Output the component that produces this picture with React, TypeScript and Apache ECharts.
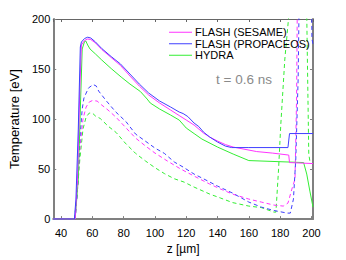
import React, { useEffect, useRef } from "react";
import * as echarts from "echarts";

// z [µm], Temperature [eV]
const sesameSolid: number[][] = [
  [35, 0], [49, 0], [50.5, 40], [52, 130], [53, 174], [55, 178.5], [57, 180], [59, 179.5],
  [62, 176], [66, 169.5], [72, 161.5], [78, 153.5], [84, 143], [90, 133], [96, 124],
  [103, 116], [110, 109], [115.5, 103.5], [120, 99], [125, 94], [131, 86], [135, 82],
  [140, 78], [145, 74.5], [150, 72], [155, 70.5], [165, 67.5], [175, 66], [185.5, 64],
  [186, 56.5], [201, 55.5],
];
const propaceosSolid: number[][] = [
  [35, 0], [48.5, 0], [49.5, 20], [51, 90], [52.3, 172], [53, 177], [55, 180.5], [57, 181.8],
  [59, 181], [62, 177], [66, 170.5], [72, 162.5], [78, 155], [84, 145], [90, 135], [96, 126],
  [103, 118], [110, 112], [115.5, 107], [118, 105.5], [121, 102.5], [125, 96], [128, 92.5],
  [131, 87], [135, 82], [140, 77], [145, 73], [149, 71.5], [160, 71.5], [185, 71.5],
  [186, 85.5], [201, 85.5],
];
const hydraSolid: number[][] = [
  [35, 0], [49, 0], [51, 40], [52.5, 120], [53.5, 170], [55, 177.5], [55.8, 178], [57, 174],
  [58.5, 170], [62, 165], [66, 159], [72, 150.5], [78.4, 142], [84, 135], [90.7, 127.5],
  [95, 120], [97, 116], [103, 110], [110, 104], [115.5, 99], [120, 91], [125, 85.5],
  [130, 80], [140, 72], [150, 65], [160, 58.5], [195, 56.5], [197, 45], [199, 28], [201, 12],
];
const sesameDashed: number[][] = [
  [35, 0], [49, 0], [50.5, 30], [52, 70], [54, 100], [56, 112], [58, 117], [60, 118.5],
  [63, 118], [66, 114], [70, 109], [75, 102], [81, 92], [87.6, 81], [94, 73], [100, 66],
  [108, 58], [116.5, 50], [125, 43], [135, 35], [142, 30], [149.6, 25], [160, 20], [168, 17],
  [176, 14], [182, 13], [185, 16], [187.5, 30], [189.5, 40], [190.5, 120], [191.2, 260],
  [201, 260],
];
const propaceosDashed: number[][] = [
  [35, 0], [49, 0], [50.5, 30], [52, 80], [53.5, 110], [54.6, 121], [57.5, 131], [60.5, 134.5],
  [62.5, 133], [64, 128], [66, 124], [69, 118], [75, 107], [81.5, 97.4], [87.6, 85],
  [93.8, 78], [100, 71], [106, 65.7], [112.4, 57], [118, 52], [125, 45], [131, 40.3],
  [140, 33], [149.6, 26], [160, 17], [168, 12], [176, 8.6], [184.5, 6], [186.5, 6],
  [188.5, 20], [190, 60], [191.5, 140], [192.5, 260], [200, 260], [200.3, 180], [201, 175],
];
const hydraDashed: number[][] = [
  [35, 0], [48.5, 0], [50, 20], [52, 60], [54, 90], [56, 102], [58, 106], [60, 106],
  [62, 103], [65, 100.6], [70, 93], [75.3, 86.4], [81, 76], [87.6, 65.7], [94, 58],
  [100, 51.4], [106, 45.5], [112.4, 40.3], [118.6, 37], [125, 32], [135, 25], [142, 21],
  [149.6, 16.5], [160, 13], [168, 11.5], [176, 7], [177.3, 7], [179, 50], [180.4, 94],
  [183, 160], [186.5, 220], [187, 260], [196.5, 260], [197.5, 150], [198.3, 65], [199, 58],
];

const legendNames = ["FLASH (SESAME)", "FLASH (PROPACEOS)", "HYDRA"];
const annotation = "t = 0.6 ns";

const MAGENTA = "#ff33ff";
const BLUE = "#3f3fff";
const GREEN = "#33ee33";
const FONT = "'Liberation Sans', Arial, sans-serif";

function lineSeries(name: string, data: number[][], color: string, dashed: boolean) {
  return {
    name,
    type: "line",
    data,
    showSymbol: false,
    symbol: "none",
    clip: true,
    color,
    lineStyle: { color, width: 1, type: dashed ? [4, 3] : "solid" },
    z: dashed ? 2 : 3,
  };
}

export default function App() {
  const ref = useRef<HTMLDivElement>(null);
  useEffect(() => {
    if (!ref.current) return;
    const chart = echarts.init(ref.current, undefined, { renderer: "svg" });
    const gray = "#808080";
    chart.setOption({
      animation: false,
      backgroundColor: "#ffffff",
      textStyle: { fontFamily: FONT },
      grid: { left: 45, top: 19, right: 33, bottom: 31, containLabel: false },
      legend: {
        data: legendNames,
        orient: "vertical",
        left: 169,
        top: 26.5,
        padding: 0,
        itemGap: 0,
        itemWidth: 23,
        itemHeight: 1,
        icon: "rect",
        textStyle: { fontSize: 11, lineHeight: 11.5, color: "#000", fontFamily: FONT, padding: [0, 0, 0, -2] },
      },
      graphic: [
        {
          type: "text",
          left: 216,
          top: 72,
          style: { text: annotation, fontSize: 13.5, fill: "#8a8a8a", fontFamily: FONT },
        },
      ],
      xAxis: [
        {
          type: "value",
          min: 35,
          max: 201,
          splitNumber: 8,
          position: "bottom",
          axisLine: { onZero: false, lineStyle: { color: gray, width: 2 } },
          axisTick: { inside: true, length: 3, lineStyle: { color: gray } },
          axisLabel: { color: "#000", fontSize: 11, margin: 8, showMinLabel: false, showMaxLabel: false, fontFamily: FONT },
          splitLine: { show: false },
          name: "z [µm]",
          nameLocation: "middle",
          nameGap: 18,
          nameTextStyle: { fontSize: 12, color: "#000", fontFamily: FONT },
        },
        {
          type: "value",
          min: 35,
          max: 201,
          splitNumber: 8,
          position: "top",
          axisLine: { onZero: false, lineStyle: { color: "#666", width: 1 } },
          axisTick: { inside: true, length: 3, lineStyle: { color: "#666" } },
          axisLabel: { show: false },
          splitLine: { show: false },
        },
      ],
      yAxis: [
        {
          type: "value",
          min: 0,
          max: 200,
          interval: 50,
          position: "left",
          axisLine: { show: true, onZero: false, lineStyle: { color: gray, width: 2 } },
          axisTick: { show: true, inside: true, length: 3, lineStyle: { color: gray } },
          axisLabel: { color: "#000", fontSize: 11, margin: 3, fontFamily: FONT },
          splitLine: { show: false },
          name: "Temperature [eV]",
          nameLocation: "middle",
          nameGap: 29,
          nameTextStyle: { fontSize: 13, color: "#000", fontFamily: FONT },
        },
        {
          type: "value",
          min: 0,
          max: 200,
          interval: 50,
          position: "right",
          axisLine: { show: true, onZero: false, lineStyle: { color: gray, width: 2 } },
          axisTick: { show: true, inside: true, length: 3, lineStyle: { color: gray } },
          axisLabel: { show: false },
          splitLine: { show: false },
        },
      ],
      series: [
        lineSeries("HYDRA dashed", hydraDashed, GREEN, true),
        lineSeries("SESAME dashed", sesameDashed, MAGENTA, true),
        lineSeries("PROPACEOS dashed", propaceosDashed, BLUE, true),
        lineSeries(legendNames[2], hydraSolid, GREEN, false),
        lineSeries(legendNames[0], sesameSolid, MAGENTA, false),
        lineSeries(legendNames[1], propaceosSolid, BLUE, false),
      ],
    });
    return () => chart.dispose();
  }, []);
  return <div ref={ref} style={{ position: "fixed", left: 0, top: 0, width: 346, height: 260 }} />;
}
